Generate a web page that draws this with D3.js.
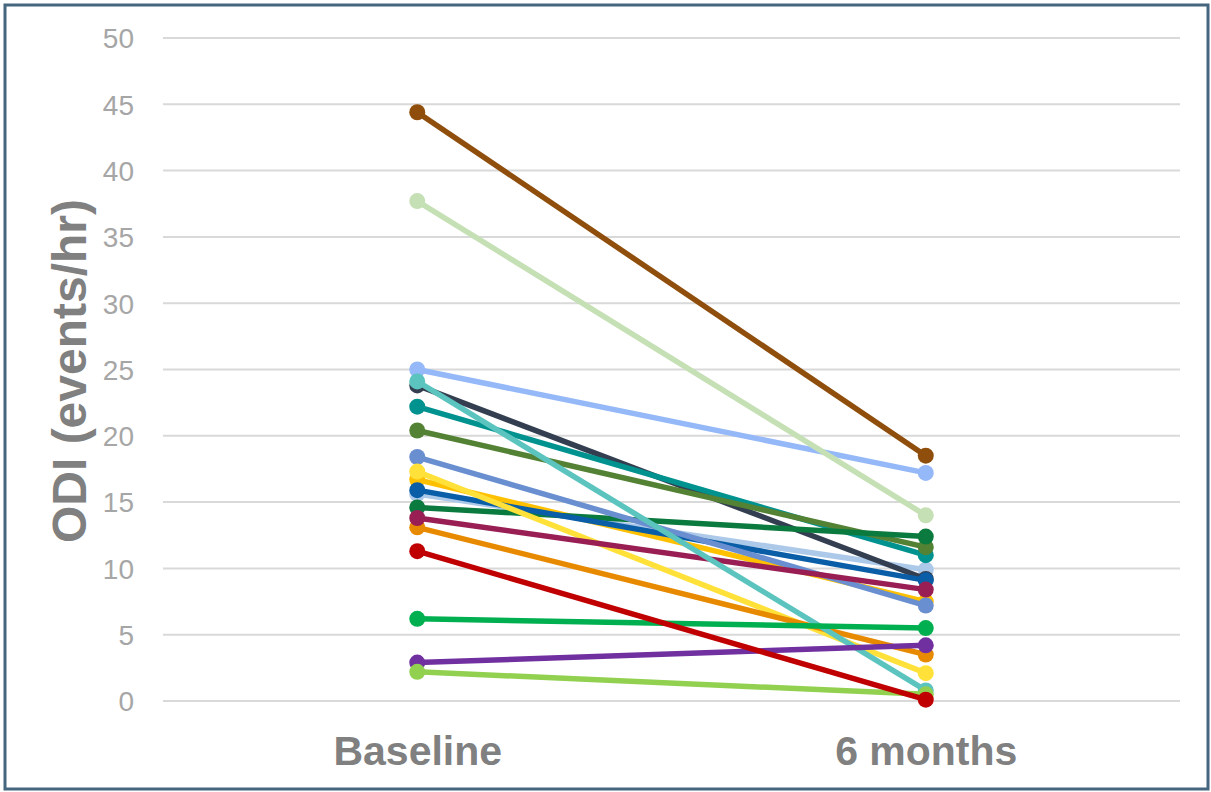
<!DOCTYPE html>
<html><head><meta charset="utf-8">
<script src="https://cdn.jsdelivr.net/npm/d3@7"></script>
<style>body{margin:0;background:#fff}svg{display:block}text{font-family:"Liberation Sans",Arial,sans-serif}</style>
</head><body>
<svg id="c" width="1211" height="792"></svg>
<script>
const categories = ["Baseline", "6 months"];
const yTicks = [0, 5, 10, 15, 20, 25, 30, 35, 40, 45, 50];
const seriesNames = ["P1","P2","P3","P4","P5","P6","P7","P8","P9","P10","P11","P12","P13","P14","P15","P16","P17","P18","P19"];
const baselineValues = [15.6, 16.7, 23.8, 25.0, 37.7, 44.4, 22.2, 20.4, 14.6, 15.9, 18.4, 17.3, 13.1, 13.8, 24.1, 6.2, 2.9, 2.2, 11.3];
const sixMonthValues = [9.9, 7.5, 9.2, 17.2, 14.0, 18.5, 11.0, 11.6, 12.4, 9.1, 7.2, 2.1, 3.5, 8.4, 0.8, 5.5, 4.2, 0.5, 0.1];
const colors = ["#adc9e9","#ffc000","#333f50","#94b8f8","#c5e0b4","#8f4e0c","#00928f","#548235","#0a7a3e","#0a5ea8","#6a8fd0","#ffe13a","#e88a00","#991e53","#5bc4bf","#00b050","#7030a0","#92d050","#c00000"];

(function(){
const svg = d3.select("#c");
svg.append("rect").attr("x",5).attr("y",5).attr("width",1203).attr("height",784)
  .attr("fill","#fff").attr("stroke","#44667e").attr("stroke-width",3);

const pL = 163, pR = 1180, pT = 38, pB = 701;
const y = d3.scaleLinear().domain([0,50]).range([pB, pT]);
const x = d3.scalePoint().domain(categories).range([pL, pR]).padding(0.5);

svg.append("g").selectAll("line").data(yTicks).join("line")
  .attr("x1", pL).attr("x2", pR)
  .attr("y1", d => y(d)).attr("y2", d => y(d))
  .attr("stroke", "#d9d9d9").attr("stroke-width", 2);

const yAxis = d3.axisLeft(y).tickValues(yTicks).tickSize(0).tickPadding(0);
const gy = svg.append("g").attr("transform", "translate(134,0)").call(yAxis);
gy.select(".domain").remove();
gy.selectAll("text").attr("fill","#a6a6a6").style("font-size","28px")
  .style("font-family","Liberation Sans, Arial, sans-serif").attr("dy","0.35em");

const xAxis = d3.axisBottom(x).tickSize(0).tickPadding(0);
const gx = svg.append("g").attr("transform", `translate(0,${pB})`).call(xAxis);
gx.select(".domain").remove();
gx.selectAll("text").attr("fill","#808080").style("font-size","41px").style("font-weight","bold")
  .style("font-family","Liberation Sans, Arial, sans-serif").attr("dy","0").attr("y",64);

svg.append("text").attr("transform","translate(86,371) rotate(-90)")
  .attr("text-anchor","middle").attr("fill","#808080")
  .style("font-size","48px").style("font-weight","bold").text("ODI (events/hr)");

const data = seriesNames.map((n,i) => ({name:n, color:colors[i], vals:[baselineValues[i], sixMonthValues[i]]}));
const line = d3.line().x((d,i) => x(categories[i])).y(d => y(d));
const g = svg.append("g");
data.forEach(s => {
  const sg = g.append("g");
  sg.append("path").attr("d", line(s.vals)).attr("fill","none").attr("stroke", s.color).attr("stroke-width",5.5);
  sg.selectAll("circle").data(s.vals).join("circle")
    .attr("cx", (d,i) => x(categories[i])).attr("cy", d => y(d)).attr("r", 8).attr("fill", s.color);
});
})();
</script>
</body></html>
